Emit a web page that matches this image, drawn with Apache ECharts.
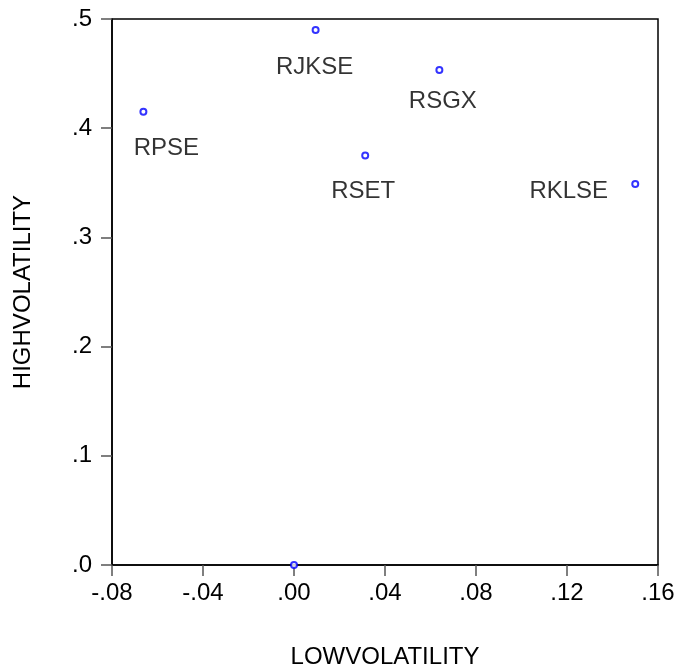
<!DOCTYPE html>
<html>
<head>
<meta charset="utf-8">
<script src="https://cdn.jsdelivr.net/npm/echarts@6/dist/echarts.min.js"></script>
<style>
html,body{margin:0;padding:0;background:#fff;}
#main{width:680px;height:669px;}
</style>
</head>
<body>
<div id="main"></div>
<script>
// Data
var names = ['RPSE', 'RJKSE', 'RSGX', 'RSET', 'RKLSE', ''];
var lowVolatility = [-0.0662, 0.0095, 0.0639, 0.0313, 0.150, 0.0];
var highVolatility = [0.415, 0.490, 0.4533, 0.375, 0.349, 0.0];
var xTicks = [-0.08, -0.04, 0.00, 0.04, 0.08, 0.12, 0.16];
var yTicks = [0.0, 0.1, 0.2, 0.3, 0.4, 0.5];

// Label placement (styling, not data)
var labelOffsets = {
  'RPSE': [23, 37],
  'RJKSE': [-1, 37],
  'RSGX': [3.5, 31.5],
  'RSET': [-2, 36],
  'RKLSE': [-66.5, 7.5]
};

var FONT = 'Liberation Sans, Arial, sans-serif';
var TICK_LEN = 11;

function fmtX(v) {
  var s = Math.abs(v).toFixed(2).replace(/^0/, '');
  return (v < -1e-9 ? '-' : '') + s;
}
function fmtY(v) {
  return Math.abs(v).toFixed(1).replace(/^0/, '');
}

var data = names.map(function (n, i) {
  var off = labelOffsets[n];
  return {
    name: n,
    value: [lowVolatility[i], highVolatility[i]],
    label: off ? {
      show: true,
      position: 'inside',
      offset: off,
      formatter: n,
      align: 'center',
      verticalAlign: 'middle',
      color: '#000',
      textBorderWidth: 0,
      fontSize: 24,
      fontFamily: FONT
    } : { show: false }
  };
});

var chart = echarts.init(document.getElementById('main'), null, { renderer: 'canvas' });
chart.setOption({
  animation: false,
  backgroundColor: '#fff',
  grid: {
    left: 112, top: 19, right: 22, bottom: 104,
    containLabel: false,
    outerBoundsMode: 'none',
    show: true, borderColor: '#000', borderWidth: 1.5, backgroundColor: 'transparent'
  },
  xAxis: {
    type: 'value',
    min: xTicks[0], max: xTicks[xTicks.length - 1], interval: 0.04,
    name: 'LOWVOLATILITY',
    nameLocation: 'middle',
    nameGap: 80,
    nameTextStyle: { fontSize: 24, color: '#000', fontFamily: FONT },
    axisLine: { show: true, onZero: false, lineStyle: { color: '#000', width: 1.5 } },
    axisTick: { show: true, inside: false, length: TICK_LEN, lineStyle: { color: '#555', width: 1.5 } },
    axisLabel: {
      fontSize: 24, color: '#000', margin: 16,
      fontFamily: FONT,
      formatter: function (v) { return fmtX(v); }
    },
    splitLine: { show: false }
  },
  yAxis: {
    type: 'value',
    min: yTicks[0], max: yTicks[yTicks.length - 1], interval: 0.1,
    name: 'HIGHVOLATILITY',
    nameLocation: 'middle',
    nameGap: 77,
    nameTextStyle: { fontSize: 24, color: '#000', fontFamily: FONT },
    axisLine: { show: true, onZero: false, lineStyle: { color: '#000', width: 1.5 } },
    axisTick: { show: true, inside: false, length: TICK_LEN, lineStyle: { color: '#555', width: 1.5 } },
    axisLabel: {
      fontSize: 24, color: '#000', margin: 20,
      fontFamily: FONT,
      formatter: function (v) { return fmtY(v); }
    },
    splitLine: { show: false }
  },
  series: [{
    type: 'scatter',
    symbol: 'emptyCircle',
    symbolSize: 6,
    itemStyle: { color: '#0000ff', borderColor: '#0000ff', borderWidth: 1.5 },
    data: data
  }]
});
</script>
</body>
</html>
